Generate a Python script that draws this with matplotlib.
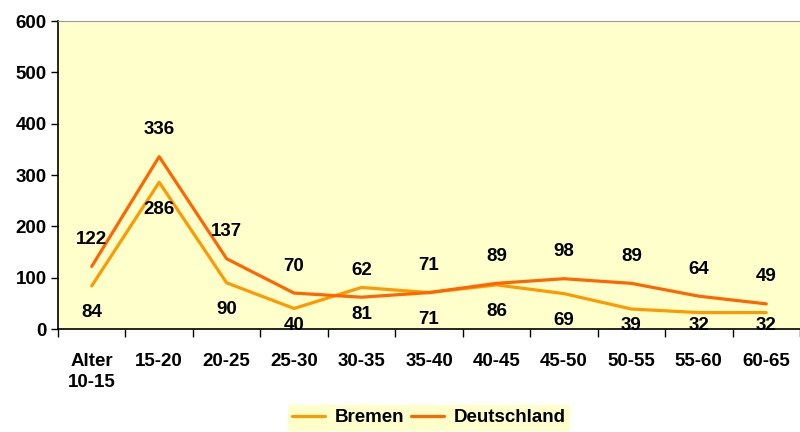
import matplotlib

matplotlib.use("Agg")

import matplotlib.pyplot as plt
import numpy as np

categories = ["Alter\n10-15", "15-20", "20-25", "25-30", "30-35", "35-40",
              "40-45", "45-50", "50-55", "55-60", "60-65"]
bremen = [84, 286, 90, 40, 81, 71, 86, 69, 39, 32, 32]
deutschland = [122, 336, 137, 70, 62, 71, 89, 98, 89, 64, 49]

plt.rcParams["font.family"] = ["Liberation Sans", "DejaVu Sans"]
plt.rcParams["font.weight"] = "bold"

BG = "#FFFFCC"
C_BREMEN = "#FF9900"
C_DE = "#FF6600"
FS = 13.5

fig = plt.figure(figsize=(8, 4.32), dpi=100)
ax = fig.add_axes([0.0725, 0.2384, 0.9275, 0.7126])
ax.set_facecolor(BG)

x = np.arange(len(categories))
ax.plot(x, bremen, color=C_BREMEN, lw=2.3, label="Bremen", solid_capstyle="round")
ax.plot(x, deutschland, color=C_DE, lw=2.3, label="Deutschland", solid_capstyle="round")

ax.set_xlim(-0.5, len(categories) - 0.5)
ax.set_ylim(0, 600)

# labels: Deutschland above, Bremen below (kept inside the plot area like Excel)
px2pt = 72 / fig.dpi
for xi, v in zip(x, deutschland):
    ax.annotate(str(v), (xi, v), xytext=(0, 27 * px2pt), textcoords="offset points",
                ha="center", va="center", fontsize=FS, fontweight="bold")
for xi, v in zip(x, bremen):
    height_px = ax.transData.transform((xi, v))[1] - ax.transData.transform((xi, 0))[1]
    off_px = min(27, height_px - 4)
    ax.annotate(str(v), (xi, v), xytext=(0, -off_px * px2pt), textcoords="offset points",
                ha="center", va="center", fontsize=FS, fontweight="bold")

ax.set_yticks(range(0, 601, 100))
ax.set_xticks(x)
ax.set_xticklabels(categories, fontsize=FS, fontweight="bold", linespacing=1.35)
ax.tick_params(axis="x", length=0, pad=17)
ax.set_xticks(np.arange(-0.5, len(categories), 1), minor=True)
ax.tick_params(axis="x", which="minor", length=6, width=1, direction="out")
ax.tick_params(axis="y", length=5, width=1, labelsize=FS, pad=3)
for lbl in ax.get_yticklabels():
    lbl.set_fontweight("bold")

ax.spines["top"].set_color("#999999")
ax.spines["right"].set_visible(False)
ax.spines["left"].set_linewidth(1.2)
ax.spines["bottom"].set_linewidth(1.2)

leg = fig.legend(loc="center", bbox_to_anchor=(0.536, 0.033), ncol=2,
                 frameon=True, fancybox=False, fontsize=FS, handlelength=1.75,
                 columnspacing=0.4, handletextpad=0.5, borderpad=0.2,
                 borderaxespad=0)
leg.get_frame().set_facecolor(BG)
leg.get_frame().set_edgecolor(BG)
leg.get_frame().set_alpha(1)
for t in leg.get_texts():
    t.set_fontweight("bold")

fig.savefig("out.png", dpi=100, facecolor="white")
